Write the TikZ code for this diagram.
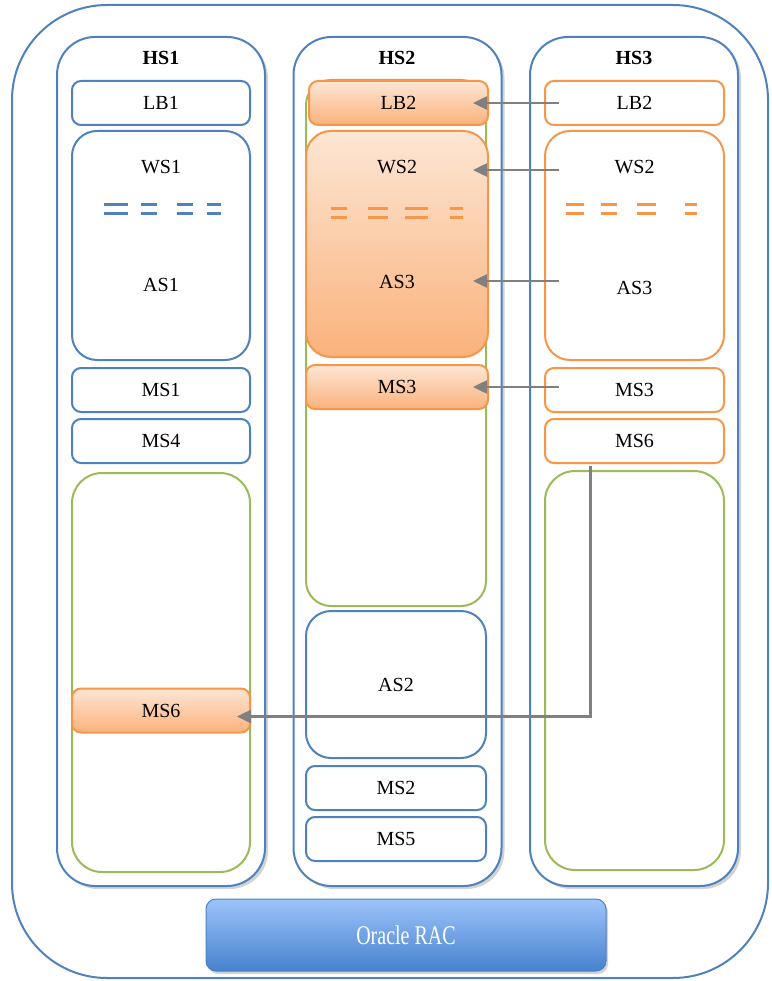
\documentclass[tikz,border=0pt]{standalone}
\usepackage{fontspec}
\setmainfont{Liberation Serif}
\usetikzlibrary{arrows.meta, calc, positioning, shadows}
\definecolor{rblue}{HTML}{4F81BD}
\definecolor{rorange}{HTML}{F79646}
\definecolor{rgreen}{HTML}{9BBB59}
\definecolor{rgray}{HTML}{808080}
\definecolor{otop}{HTML}{FDE6D4}
\definecolor{obot}{HTML}{FAB27C}
\definecolor{btop}{HTML}{9DC3FB}
\definecolor{bbot}{HTML}{4682CE}
\tikzset{
  host/.style={
    draw=rblue,
    line width=2pt,
    rounded corners=38pt,
    fill=white,
    minimum width=208pt,
    minimum height=849pt,
    drop shadow={opacity=0.35, shadow xshift=3pt, shadow yshift=-3pt}
  },
  srv/.style={
    draw=rblue,
    line width=2pt,
    rounded corners=9pt,
    fill=white,
    minimum width=178pt,
    minimum height=44pt,
    inner sep=0pt
  },
  srv orange/.style={
    srv,
    draw=rorange
  },
  srv moved/.style={
    srv,
    draw=rorange,
    top color=otop,
    bottom color=obot
  },
  pool/.style={
    draw=rgreen,
    line width=2pt,
    rounded corners=30pt,
    minimum width=178pt,
    inner sep=0pt
  },
  link/.style={
    -{Triangle[length=14pt, width=13pt]},
    line width=2.5pt,
    draw=rgray
  },
  lbl/.style={
    font=\fontsize{20}{23}\selectfont
  },
  title/.style={
    font=\fontsize{20}{23}\selectfont\bfseries
  }
}

\begin{document}
\begin{tikzpicture}[x=1pt, y=-1pt]
  \useasboundingbox (0,0) rectangle (771,981);

  % outer frame
  \draw[rblue, line width=2pt, rounded corners=95pt] (12,5) rectangle (768,978);

  % hosts
  \node[host] (hs1) at (161,461.5) {};
  \node[host] (hs2) at (397.5,461.5) {};
  \node[host] (hs3) at (634,461.5) {};
  \node[title] (t1) at (161,58) {HS1};
  \node[title] (t2) at (397,58) {HS2};
  \node[title] (t3) at (634,58) {HS3};

  % HS1
  \node[srv, lbl] (lb1) at (161,103) {LB1};
  \node[srv, rounded corners=25pt, minimum height=229pt] (wsas1) at (161,245.5) {};
  \node[lbl] (tws1) at (161,167) {WS1};
  \node[lbl] (tas1) at (161,285) {AS1};
  \foreach \a/\b in {104/128, 141/157, 177/193, 207/221}
    \draw[rblue, line width=2.5pt] (\a,204.5) -- (\b,204.5) (\a,213.5) -- (\b,213.5);
  \node[srv, lbl] (ms1) at (161,390) {MS1};
  \node[srv, lbl] (ms4) at (161,441) {MS4};
  \node[pool, minimum height=399pt] (pool1) at (161,672.5) {};
  \node[srv moved, lbl] (ms6a) at (161,710.5) {MS6};

  % HS2
  \node[pool, minimum width=180pt, minimum height=526pt, rounded corners=25pt] (pool2) at (396,343) {};
  \node[srv moved, lbl, minimum width=179pt] (lb2a) at (398.5,103) {LB2};
  \node[srv moved, rounded corners=25pt, minimum width=182pt, minimum height=226pt] (wsas2a) at (397,244) {};
  \node[lbl] (tws2a) at (397,167) {WS2};
  \node[lbl] (tas3a) at (397,282) {AS3};
  \foreach \a/\b in {331/347, 368/388, 405/428, 450/463}
    \draw[rorange, line width=2.5pt] (\a,208.5) -- (\b,208.5) (\a,217.5) -- (\b,217.5);
  \node[srv moved, lbl, minimum width=182pt] (ms3a) at (397,387) {MS3};
  \node[srv, rounded corners=25pt, minimum width=180pt, minimum height=147pt] (as2box) at (396,684.5) {};
  \node[lbl] (tas2) at (396,684.5) {AS2};
  \node[srv, lbl, minimum width=180pt] (ms2) at (396,788) {MS2};
  \node[srv, lbl, minimum width=180pt] (ms5) at (396,839) {MS5};

  % HS3
  \node[srv orange, lbl, minimum width=179pt] (lb2b) at (634.5,103) {LB2};
  \node[srv orange, rounded corners=25pt, minimum width=179pt, minimum height=229pt] (wsas2b) at (634.5,245.5) {};
  \node[lbl] (tws2b) at (634.5,167) {WS2};
  \node[lbl] (tas3b) at (634.5,288) {AS3};
  \foreach \a/\b in {566/584, 601/617, 637/656, 685/697}
    \draw[rorange, line width=2.5pt] (\a,204.5) -- (\b,204.5) (\a,213.5) -- (\b,213.5);
  \node[srv orange, lbl, minimum width=179pt] (ms3b) at (634.5,390) {MS3};
  \node[srv orange, lbl, minimum width=179pt] (ms6b) at (634.5,441) {MS6};
  \node[pool, minimum width=179pt, minimum height=399pt] (pool3) at (634.5,670.5) {};

  % database
  \node[draw=rblue, line width=1pt, rounded corners=10pt, top color=btop, bottom color=bbot,
        minimum width=400pt, minimum height=72pt, text=white,
        drop shadow={opacity=0.35, shadow xshift=2pt, shadow yshift=-3pt},
        font=\fontsize{20}{24}\selectfont] (rac) at (406,935) {\scalebox{1}[1.35]{Oracle RAC}};

  % migrations
  \draw[link] ($(lb2b.west)+(15,0)$) -- ($(lb2a.east)+(-16,0)$);
  \draw[link] ($(wsas2b.west |- tws2b)+(15,3)$) -- ($(wsas2a.east |- tws2b)+(-16,3)$);
  \draw[link] ($(wsas2b.west |- tas3a)+(15,-1)$) -- ($(wsas2a.east |- tas3a)+(-16,-1)$);
  \draw[link] ($(ms3b.west |- ms3a)+(15,0)$) -- ($(ms3a.east)+(-16,0)$);
  \draw[link] ($(ms6b.south)+(-44,2)$) |- ($(ms6a.east)+(-14,6)$);
\end{tikzpicture}
\end{document}
